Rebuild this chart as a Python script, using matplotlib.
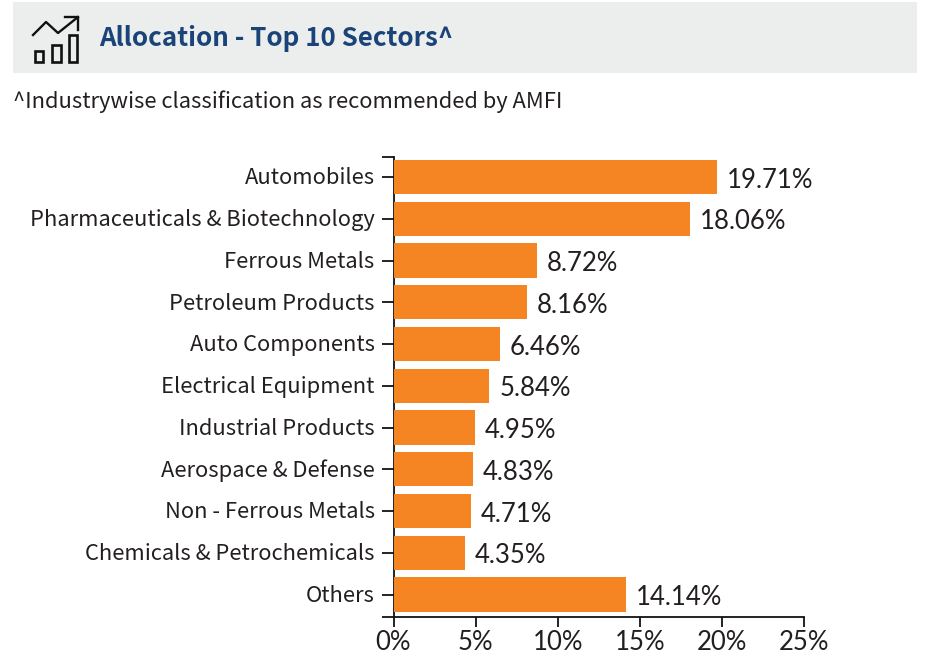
import matplotlib
matplotlib.use('Agg')
import matplotlib.pyplot as plt
from matplotlib.patches import Rectangle
from matplotlib.ticker import FuncFormatter
from matplotlib.transforms import ScaledTranslation

sectors = ['Automobiles', 'Pharmaceuticals & Biotechnology', 'Ferrous Metals', 'Petroleum Products',
           'Auto Components', 'Electrical Equipment', 'Industrial Products', 'Aerospace & Defense',
           'Non - Ferrous Metals', 'Chemicals & Petrochemicals', 'Others']
allocation = [19.71, 18.06, 8.72, 8.16, 6.46, 5.84, 4.95, 4.83, 4.71, 4.35, 14.14]
x_ticks = [0, 5, 10, 15, 20, 25]

W, H = 932, 654
ORANGE = '#f58423'
NAVY = '#1a4479'
DARK = '#231f20'
SANS = 'Noto Sans CJK JP'

fig = plt.figure(figsize=(W / 100, H / 100), dpi=100)

# page overlay in pixel coordinates, for the header band and the icon
page = fig.add_axes([0, 0, 1, 1])
page.set_xlim(0, W)
page.set_ylim(H, 0)
page.axis('off')
page.add_patch(Rectangle((13, 2), 904, 71, facecolor='#eceeee', edgecolor='none'))

for x0, y0, x1 in [(34.5, 51, 43), (52, 44.5, 61), (68.5, 34.5, 77)]:
    page.add_patch(Rectangle((x0, y0), x1 - x0, 61.5 - y0, fill=False, edgecolor='#111111', linewidth=1.9))
page.plot([33, 46, 58, 78], [35, 22, 33, 17], color='#111111', linewidth=1.7)
page.plot([65, 78, 78], [16.5, 16.5, 30], color='#111111', linewidth=1.7)

page.text(99, 39, 'Allocation - Top 10 Sectors^', family=SANS, fontsize=18.7, fontweight='bold',
          color=NAVY, va='center', ha='left')
page.text(13, 101.5, '^Industrywise classification as recommended by AMFI', family=SANS,
          fontsize=15.8, color=DARK, va='center', ha='left')

# axes box: x 393.5-804, y 157-617
ax = fig.add_axes([393.5 / W, 1 - 617 / H, 410.5 / W, 460 / H])
ax.patch.set_alpha(0)
ax.barh(range(len(sectors)), allocation, height=0.815, color=ORANGE, zorder=3)
ax.set_xlim(0, 25)
top_edge = -20 / 41.75
bottom_edge = 440 / 41.75
ax.set_ylim(bottom_edge, top_edge)

ax.set_yticks(range(len(sectors)))
ax.set_yticklabels(sectors, family=SANS, fontsize=15.8, color=DARK, va='center')
ax.set_yticks([top_edge, bottom_edge], minor=True)
ax.tick_params(axis='y', which='both', length=12.5 * 0.72, width=1.3, color='#111111', pad=4.5)
ax.tick_params(axis='y', which='minor', labelleft=False)
nudge = ScaledTranslation(0, -1 / 72, fig.dpi_scale_trans)
for label in ax.get_yticklabels():
    label.set_transform(label.get_transform() + nudge)

ax.set_xticks(x_ticks)
ax.xaxis.set_major_formatter(FuncFormatter(lambda v, _: f'{v:.0f}%'))
ax.tick_params(axis='x', length=7, width=1.3, color='#111111', pad=2.5, labelsize=18.5, labelcolor=DARK)
for label in ax.get_xticklabels():
    label.set_family('Lato')

for spine in ['top', 'right']:
    ax.spines[spine].set_visible(False)
for spine in ['left', 'bottom']:
    ax.spines[spine].set_linewidth(1.3)
    ax.spines[spine].set_color('#111111')

for i, v in enumerate(allocation):
    ax.annotate(f'{v:.2f}%', (v, i), xytext=(7, -2.2), textcoords='offset points', family='Lato',
                fontsize=18.5, color=DARK, va='center', ha='left', zorder=4)

fig.savefig('out.png', dpi=100)
